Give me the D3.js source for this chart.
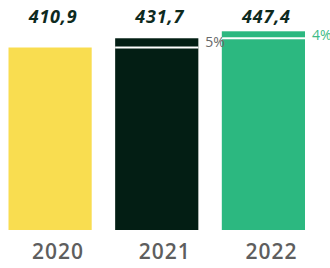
<!DOCTYPE html>
<html><head><meta charset="utf-8">
<script src="https://cdn.jsdelivr.net/npm/d3@7"></script>
<style>html,body{margin:0;padding:0;background:#fff;}svg{display:block;}</style>
</head><body>
<div id="chart"></div>
<script>
const years = ["2020", "2021", "2022"];
const values = [410.9, 431.7, 447.4];
const valueLabels = ["410,9", "431,7", "447,4"];
const prevValues = [null, 410.9, 431.7];
const growthLabels = ["", "5%", "4%"];
const barColors = ["#F9DD50", "#031E14", "#2CB880"];
const growthColors = ["#666", "#686868", "#3DBB86"];

const W = 330, H = 268;
const svg = d3.select("#chart").append("svg").attr("width", W).attr("height", H);

const x = d3.scaleBand().domain(years).range([8.5, 305]).paddingInner(0.22).paddingOuter(0);
const y = d3.scaleLinear().domain([0, 460]).range([230, 25.7]);

const g = svg.append("g");
g.selectAll("rect.bar").data(years).join("rect")
  .attr("class", "bar")
  .attr("x", d => x(d))
  .attr("width", x.bandwidth())
  .attr("y", (d, i) => y(values[i]))
  .attr("height", (d, i) => y(0) - y(values[i]))
  .attr("fill", (d, i) => barColors[i]);

// white separators at previous year's level
g.selectAll("rect.sep").data(years.filter((d, i) => prevValues[i] != null)).join("rect")
  .attr("class", "sep")
  .attr("x", d => x(d))
  .attr("width", x.bandwidth())
  .attr("y", d => y(prevValues[years.indexOf(d)]) - 1)
  .attr("height", 2)
  .attr("fill", "#fff");

// growth labels
g.selectAll("text.growth").data(years.filter((d, i) => growthLabels[i])).join("text")
  .attr("class", "growth")
  .attr("x", d => x(d) + x.bandwidth() + 7)
  .attr("y", d => y(values[years.indexOf(d)]) + 9)
  .attr("font-family", "'Open Sans', sans-serif")
  .attr("font-size", 14)
  .attr("fill", d => growthColors[years.indexOf(d)])
  .text(d => growthLabels[years.indexOf(d)]);

// value labels
g.selectAll("text.val").data(years).join("text")
  .attr("class", "val")
  .attr("x", d => x(d) + x.bandwidth() / 2 + 3)
  .attr("y", 23)
  .attr("text-anchor", "middle")
  .attr("font-family", "'Open Sans', sans-serif")
  .attr("font-weight", 700)
  .attr("font-style", "italic")
  .attr("font-size", 18)
  .attr("letter-spacing", "0.8px")
  .attr("fill", "#0E2A1E")
  .text((d, i) => valueLabels[i]);

// x axis labels
const xAxis = d3.axisBottom(x).tickSize(0).tickPadding(0);
const ax = svg.append("g").attr("transform", "translate(8,244)").call(xAxis);
ax.select(".domain").remove();
ax.selectAll("text")
  .attr("dy", 0).attr("y", 15)
  .attr("font-family", "'Open Sans', sans-serif")
  .attr("font-weight", 600)
  .attr("font-size", 21)
  .attr("letter-spacing", "1px")
  .attr("fill", "#5E5E5E");
</script>
</body></html>
